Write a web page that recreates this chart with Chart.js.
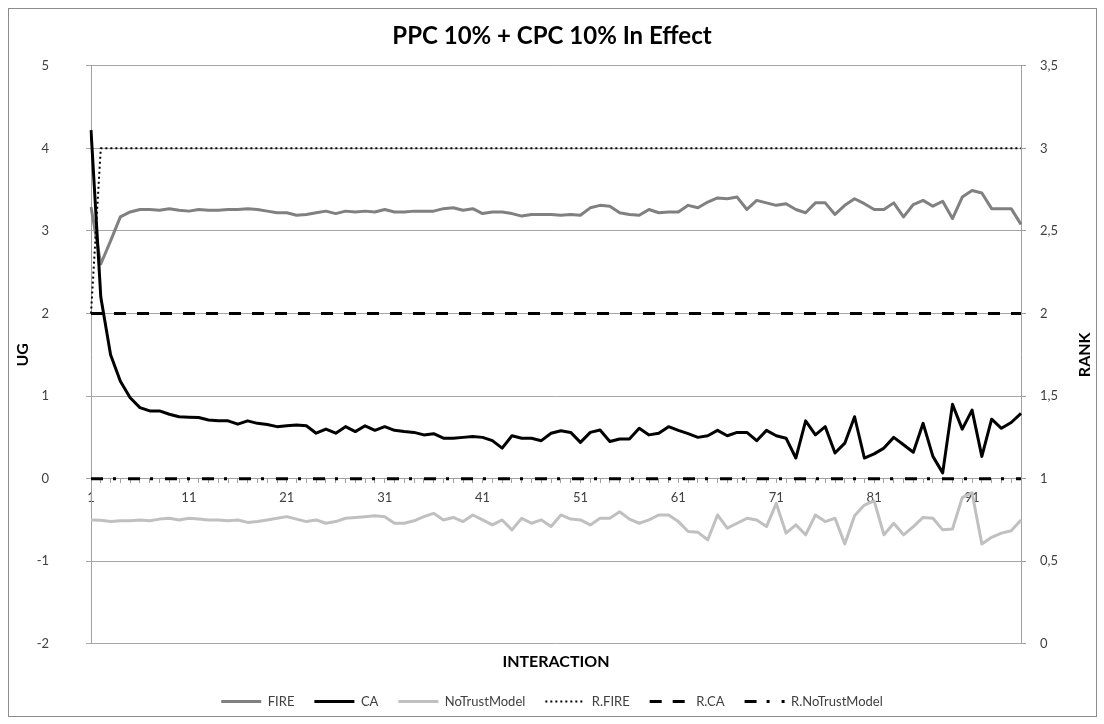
<!DOCTYPE html>
<html>
<head>
<meta charset="utf-8">
<title>PPC 10% + CPC 10% In Effect</title>
<script src="https://cdn.jsdelivr.net/npm/chart.js@4.4.1/dist/chart.umd.min.js"></script>
<style>
  html, body { margin: 0; padding: 0; background: #fff; }
  #wrap { position: relative; width: 1104px; height: 724px; }
  #frame { position: absolute; left: 8px; top: 8px; width: 1087px; height: 707px; border: 1px solid #8c8c8c; pointer-events: none; }
</style>
</head>
<body>
<div id="wrap">
  <canvas id="ugChart" width="1104" height="724"></canvas>
  <div id="frame"></div>
</div>
<script>
// UG per interaction (left axis)
var fire = [3.29, 2.60, 2.88, 3.17, 3.23, 3.26, 3.26, 3.25, 3.27, 3.25,
  3.24, 3.26, 3.25, 3.25, 3.26, 3.26, 3.27, 3.26, 3.24, 3.22,
  3.22, 3.19, 3.20, 3.22, 3.24, 3.21, 3.24, 3.23, 3.24, 3.23,
  3.26, 3.23, 3.23, 3.24, 3.24, 3.24, 3.27, 3.28, 3.25, 3.27,
  3.21, 3.23, 3.23, 3.21, 3.18, 3.20, 3.20, 3.20, 3.19, 3.20,
  3.19, 3.28, 3.31, 3.30, 3.22, 3.20, 3.19, 3.26, 3.22, 3.23,
  3.23, 3.31, 3.28, 3.35, 3.40, 3.39, 3.41, 3.26, 3.37, 3.34,
  3.31, 3.33, 3.26, 3.22, 3.34, 3.34, 3.20, 3.31, 3.39, 3.33,
  3.26, 3.26, 3.34, 3.17, 3.32, 3.37, 3.30, 3.36, 3.15, 3.41,
  3.49, 3.46, 3.27, 3.27, 3.27, 3.08];

var ca = [4.22, 2.20, 1.50, 1.18, 0.98, 0.86, 0.82, 0.82, 0.78, 0.75,
  0.745, 0.74, 0.71, 0.70, 0.70, 0.66, 0.70, 0.67, 0.655, 0.63,
  0.64, 0.65, 0.64, 0.55, 0.60, 0.55, 0.63, 0.57, 0.64, 0.585,
  0.63, 0.585, 0.57, 0.56, 0.53, 0.545, 0.49, 0.49, 0.50, 0.51,
  0.50, 0.46, 0.37, 0.52, 0.49, 0.49, 0.46, 0.55, 0.58, 0.56,
  0.44, 0.56, 0.59, 0.45, 0.48, 0.48, 0.61, 0.53, 0.55, 0.63,
  0.585, 0.545, 0.50, 0.52, 0.585, 0.52, 0.56, 0.56, 0.46, 0.585,
  0.52, 0.49, 0.25, 0.70, 0.53, 0.63, 0.31, 0.43, 0.75, 0.25,
  0.30, 0.37, 0.50, 0.41, 0.32, 0.67, 0.27, 0.07, 0.90, 0.60,
  0.83, 0.27, 0.72, 0.61, 0.68, 0.79];

var noTrust = [-0.50, -0.505, -0.52, -0.51, -0.51, -0.50, -0.51, -0.49, -0.48, -0.50,
  -0.48, -0.49, -0.50, -0.50, -0.51, -0.50, -0.53, -0.52, -0.50, -0.48,
  -0.46, -0.49, -0.52, -0.50, -0.54, -0.52, -0.48, -0.47, -0.46, -0.45,
  -0.46, -0.54, -0.54, -0.51, -0.46, -0.42, -0.50, -0.47, -0.52, -0.44,
  -0.50, -0.56, -0.50, -0.62, -0.48, -0.54, -0.50, -0.58, -0.44, -0.49,
  -0.50, -0.56, -0.48, -0.48, -0.40, -0.49, -0.54, -0.50, -0.44, -0.44,
  -0.52, -0.64, -0.65, -0.74, -0.44, -0.60, -0.54, -0.48, -0.50, -0.58,
  -0.30, -0.66, -0.56, -0.68, -0.44, -0.52, -0.48, -0.79, -0.45, -0.32,
  -0.27, -0.68, -0.54, -0.68, -0.58, -0.47, -0.48, -0.62, -0.61, -0.23,
  -0.17, -0.79, -0.71, -0.66, -0.63, -0.50];

// RANK per interaction (right axis)
var rFire = [2, 3, 3, 3, 3, 3, 3, 3, 3, 3, 3, 3, 3, 3, 3, 3, 3, 3, 3, 3, 3, 3, 3, 3,
  3, 3, 3, 3, 3, 3, 3, 3, 3, 3, 3, 3, 3, 3, 3, 3, 3, 3, 3, 3, 3, 3, 3, 3,
  3, 3, 3, 3, 3, 3, 3, 3, 3, 3, 3, 3, 3, 3, 3, 3, 3, 3, 3, 3, 3, 3, 3, 3,
  3, 3, 3, 3, 3, 3, 3, 3, 3, 3, 3, 3, 3, 3, 3, 3, 3, 3, 3, 3, 3, 3, 3, 3];
var rCa = [2, 2, 2, 2, 2, 2, 2, 2, 2, 2, 2, 2, 2, 2, 2, 2, 2, 2, 2, 2, 2, 2, 2, 2,
  2, 2, 2, 2, 2, 2, 2, 2, 2, 2, 2, 2, 2, 2, 2, 2, 2, 2, 2, 2, 2, 2, 2, 2,
  2, 2, 2, 2, 2, 2, 2, 2, 2, 2, 2, 2, 2, 2, 2, 2, 2, 2, 2, 2, 2, 2, 2, 2,
  2, 2, 2, 2, 2, 2, 2, 2, 2, 2, 2, 2, 2, 2, 2, 2, 2, 2, 2, 2, 2, 2, 2, 2];
var rNoTrust = [1, 1, 1, 1, 1, 1, 1, 1, 1, 1, 1, 1, 1, 1, 1, 1, 1, 1, 1, 1, 1, 1, 1, 1,
  1, 1, 1, 1, 1, 1, 1, 1, 1, 1, 1, 1, 1, 1, 1, 1, 1, 1, 1, 1, 1, 1, 1, 1,
  1, 1, 1, 1, 1, 1, 1, 1, 1, 1, 1, 1, 1, 1, 1, 1, 1, 1, 1, 1, 1, 1, 1, 1,
  1, 1, 1, 1, 1, 1, 1, 1, 1, 1, 1, 1, 1, 1, 1, 1, 1, 1, 1, 1, 1, 1, 1, 1];

var interactions = fire.map(function (v, i) { return String(i + 1); });
var rankTicks = ['0', '0,5', '1', '1,5', '2', '2,5', '3', '3,5'];

Chart.defaults.font.family = 'Lato, "Open Sans", sans-serif';
Chart.defaults.color = '#404040';

function series(label, data, color, width, dash, axis, order) {
  return {
    label: label,
    data: data,
    borderColor: color,
    backgroundColor: color,
    borderWidth: width,
    borderDash: dash,
    borderJoinStyle: 'round',
    yAxisID: axis,
    order: order,
    pointRadius: 0,
    pointHoverRadius: 0,
    tension: 0,
    fill: false
  };
}

// legend keys as short line samples with the dataset's own dash and width
function lineLabels(chart) {
  var items = Chart.defaults.plugins.legend.labels.generateLabels(chart);
  items.forEach(function (item) {
    var ds = chart.data.datasets[item.datasetIndex];
    item.lineDash = ds.borderDash;
    item.lineWidth = ds.borderWidth;
    item.strokeStyle = ds.borderColor;
    item.pointStyle = 'line';
  });
  return items.sort(function (a, b) { return a.datasetIndex - b.datasetIndex; });
}

// draws the right axis title reading bottom-to-top like the left one
var rankTitle = {
  id: 'rankTitle',
  afterDraw: function (chart) {
    var s = chart.scales.y1;
    var ctx = chart.ctx;
    ctx.save();
    ctx.translate(s.right - 9, (s.top + s.bottom) / 2);
    ctx.rotate(-Math.PI / 2);
    ctx.font = 'bold 16px Lato, "Open Sans", sans-serif';
    ctx.fillStyle = '#000';
    ctx.textAlign = 'center';
    ctx.textBaseline = 'middle';
    ctx.fillText('RANK', 0, 0);
    ctx.restore();
  }
};

var ctx = document.getElementById('ugChart').getContext('2d');
var ugChart = new Chart(ctx, {
  type: 'line',
  data: {
    labels: interactions,
    datasets: [
      series('FIRE', fire, '#808080', 3, [], 'y', 5),
      series('CA', ca, '#000000', 3, [], 'y', 4),
      series('NoTrustModel', noTrust, '#c0c0c0', 3, [], 'y', 6),
      series('R.FIRE', rFire, '#000000', 2, [2, 3], 'y1', 3),
      series('R.CA', rCa, '#000000', 3, [12, 11], 'y1', 2),
      series('R.NoTrustModel', rNoTrust, '#000000', 3, [12, 10, 3, 12], 'y1', 1)
    ]
  },
  options: {
    responsive: false,
    animation: false,
    layout: { padding: { left: 10, right: 10, top: 10, bottom: 6 } },
    plugins: {
      title: {
        display: true,
        text: 'PPC 10% + CPC 10% In Effect',
        color: '#000',
        font: { size: 24, weight: 'bold' },
        padding: { top: 12, bottom: 15 }
      },
      legend: {
        position: 'bottom',
        labels: {
          usePointStyle: true,
          pointStyle: 'line',
          pointStyleWidth: 40,
          padding: 20,
          color: '#404040',
          font: { size: 13 },
          generateLabels: lineLabels
        }
      },
      tooltip: { enabled: false }
    },
    scales: {
      x: {
        type: 'category',
        position: { y: 0 },
        offset: false,
        grid: { display: true, drawOnChartArea: false, drawTicks: true, tickLength: 4, color: '#a0a0a0' },
        border: { display: true, color: '#a0a0a0' },
        ticks: {
          autoSkip: false,
          maxRotation: 0,
          padding: 7,
          font: { size: 13 },
          callback: function (v, i) { return i % 10 === 0 ? interactions[i] : ''; }
        }
      },
      x2: {
        type: 'category',
        position: 'bottom',
        offset: false,
        grid: { display: false },
        border: { display: false },
        ticks: { display: false },
        title: {
          display: true,
          text: 'INTERACTION',
          color: '#000',
          font: { size: 16, weight: 'bold' },
          padding: { top: 0, bottom: 4 }
        }
      },
      y: {
        position: 'left',
        min: -2,
        max: 5,
        ticks: { stepSize: 1, padding: 37, font: { size: 13 } },
        grid: { color: '#a6a6a6', drawTicks: true, tickLength: 5 },
        border: { color: '#a0a0a0' },
        title: {
          display: true,
          text: 'UG',
          color: '#000',
          font: { size: 16, weight: 'bold' },
          padding: { top: 3, bottom: 0 }
        },
        afterFit: function (s) { s.width = 81; }
      },
      y1: {
        position: 'right',
        min: 0,
        max: 3.5,
        ticks: {
          stepSize: 0.5,
          padding: 14,
          font: { size: 13 },
          callback: function (v, i) { return rankTicks[i]; }
        },
        grid: { drawOnChartArea: false, drawTicks: true, tickLength: 5, color: '#a0a0a0' },
        border: { color: '#a0a0a0' },
        afterFit: function (s) { s.width = 73; }
      }
    }
  },
  plugins: [rankTitle]
});
</script>
</body>
</html>
